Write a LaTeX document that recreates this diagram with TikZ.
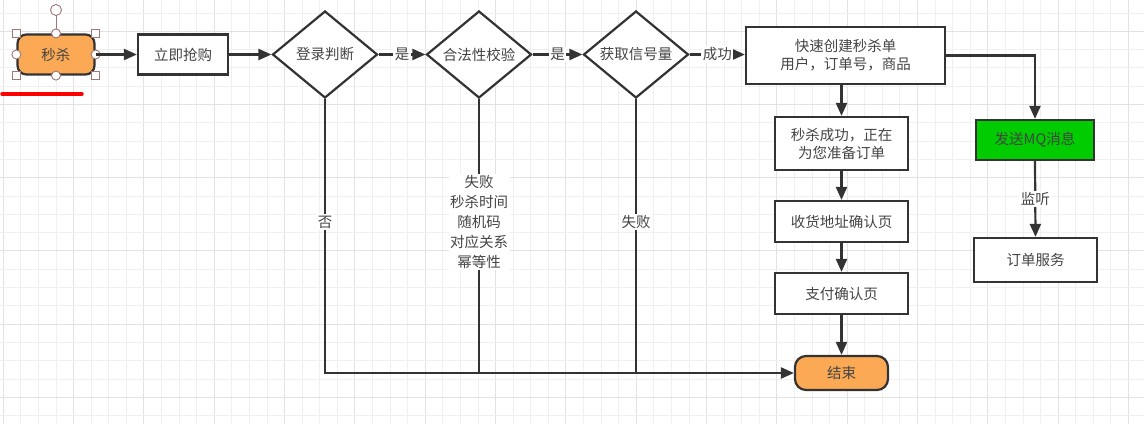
\documentclass[tikz,border=0pt]{standalone}
\usepackage{fontspec}
\newfontfamily\cjkfont{Noto Sans CJK SC}
\usetikzlibrary{shapes.geometric,arrows.meta,calc}
\definecolor{orangefill}{HTML}{FBA954}
\definecolor{mqgreen}{HTML}{00CC00}
\definecolor{linecol}{HTML}{333333}
\definecolor{txtcol}{HTML}{444444}
\definecolor{gridminor}{HTML}{F0F0F0}
\definecolor{gridmajor}{HTML}{E2E2E2}
\definecolor{handlecol}{HTML}{A07777}
\tikzset{
  base/.style={font=\cjkfont\fontsize{14.5}{18}\selectfont, text=txtcol, align=center, inner sep=0pt},
  procbox/.style={base, draw=linecol, line width=2.2pt, fill=white, rectangle},
  decide/.style={base, draw=linecol, line width=2.2pt, fill=white, diamond, minimum width=105pt, minimum height=87pt, aspect=1.2},
  term/.style={base, draw=linecol, line width=2.2pt, fill=orangefill, rectangle, rounded corners=9pt},
  conn/.style={draw=linecol, line width=2.2pt, -{Triangle[length=13pt,width=11pt]}},
  plain/.style={draw=linecol, line width=2.2pt},
  lbl/.style={base, fill=white, inner sep=1.5pt},
  hsq/.style={draw=handlecol, fill=white, line width=0.9pt, minimum size=8pt, inner sep=0pt, rectangle},
  hci/.style={draw=handlecol, fill=white, line width=0.9pt, minimum size=9pt, inner sep=0pt, circle},
}
\begin{document}
\begin{tikzpicture}[x=1pt,y=-1pt]
\useasboundingbox (0,0) rectangle (1144,424);
\fill[white] (0,0) rectangle (1144,424);
% grid
\foreach \i in {0,...,65} {
  \pgfmathsetmacro{\gx}{3.3+17.58*\i}
  \pgfmathtruncatemacro{\mm}{mod(\i,4)}
  \ifnum\mm=0
    \draw[gridmajor, line width=0.9pt] (\gx,0) -- (\gx,424);
  \else
    \draw[gridminor, line width=0.8pt] (\gx,0) -- (\gx,424);
  \fi
}
\foreach \j in {0,...,23} {
  \pgfmathsetmacro{\gy}{12.9+18.3*\j}
  \pgfmathtruncatemacro{\mm}{mod(\j,4)}
  \ifnum\mm=1
    \draw[gridmajor, line width=0.9pt] (0,\gy) -- (1144,\gy);
  \else
    \draw[gridminor, line width=0.8pt] (0,\gy) -- (1144,\gy);
  \fi
}

% nodes
\node[term, minimum width=77pt, minimum height=40pt] (start) at (56,54.5) {秒杀};
\node[procbox, minimum width=90pt, minimum height=40pt] (buy) at (183,54.5) {立即抢购};
\node[decide] (login) at (325,54.5) {登录判断};
\node[decide] (valid) at (479,54.5) {合法性校验};
\node[decide] (sem) at (636,54.5) {获取信号量};
\node[procbox, minimum width=199pt, minimum height=57pt] (create) at (845.5,55.5) {快速创建秒杀单\\用户，订单号，商品};
\node[procbox, minimum width=133pt, minimum height=53pt] (succ) at (841.5,143.5) {秒杀成功，正在\\为您准备订单};
\node[procbox, minimum width=133pt, minimum height=41pt] (addr) at (841.5,221.5) {收货地址确认页};
\node[procbox, minimum width=133pt, minimum height=41pt] (pay) at (841.5,293.5) {支付确认页};
\node[term, minimum width=93pt, minimum height=34pt, rounded corners=11pt] (end) at (841.5,373) {结束};
\node[procbox, fill=mqgreen, minimum width=118pt, minimum height=40pt] (mq) at (1035,140) {发送MQ消息};
\node[procbox, minimum width=123pt, minimum height=44pt] (order) at (1035.5,260) {订单服务};

% selection handles around start
\coordinate (rot) at (56,10);
\draw[handlecol, line width=0.9pt] (rot) -- (start.north);
\node[hci, minimum size=11pt] (roth) at (rot) {};
\foreach \a in {north west, north east, south west, south east}
  \node[hsq] at (start.\a) {};
\foreach \a in {north, south, east, west}
  \node[hci] at (start.\a) {};
% red underline
\coordinate (ul1) at (2,94);
\coordinate (ul2) at (82,94);
\draw[red, line width=3.5pt, line cap=round] (ul1) -- (ul2);

% connectors
\draw[conn] (start.east) -- (buy.west);
\draw[conn] (buy.east) -- (login.west);
\draw[conn] (login.east) -- node[lbl] {是} (valid.west);
\draw[conn] (valid.east) -- node[lbl] {是} (sem.west);
\draw[conn] (sem.east) -- node[lbl] {成功} (sem.east -| create.west);
\draw[conn] (create.south -| succ.north) -- (succ.north);
\draw[conn] (succ.south) -- (addr.north);
\draw[conn] (addr.south) -- (pay.north);
\draw[conn] (pay.south) -- (end.north);
\draw[conn] (create.east) -| (mq.north);
\draw[conn] (mq.south) -- node[lbl, pos=0.5] {监听} (order.north);

\coordinate (j1) at (login.south |- end.west);
\coordinate (j2) at (valid.south |- end.west);
\coordinate (j3) at (sem.south |- end.west);
\draw[conn] (login.south) -- (j1) -- (end.west);
\draw[plain] (valid.south) -- (j2);
\draw[plain] (sem.south) -- (j3);
\node[lbl] at (325,222) {否};
\node[lbl, font=\cjkfont\fontsize{14.5}{20}\selectfont] at (479,222) {失败\\秒杀时间\\随机码\\对应关系\\幂等性};
\node[lbl] at (636,222) {失败};
\end{tikzpicture}
\end{document}
